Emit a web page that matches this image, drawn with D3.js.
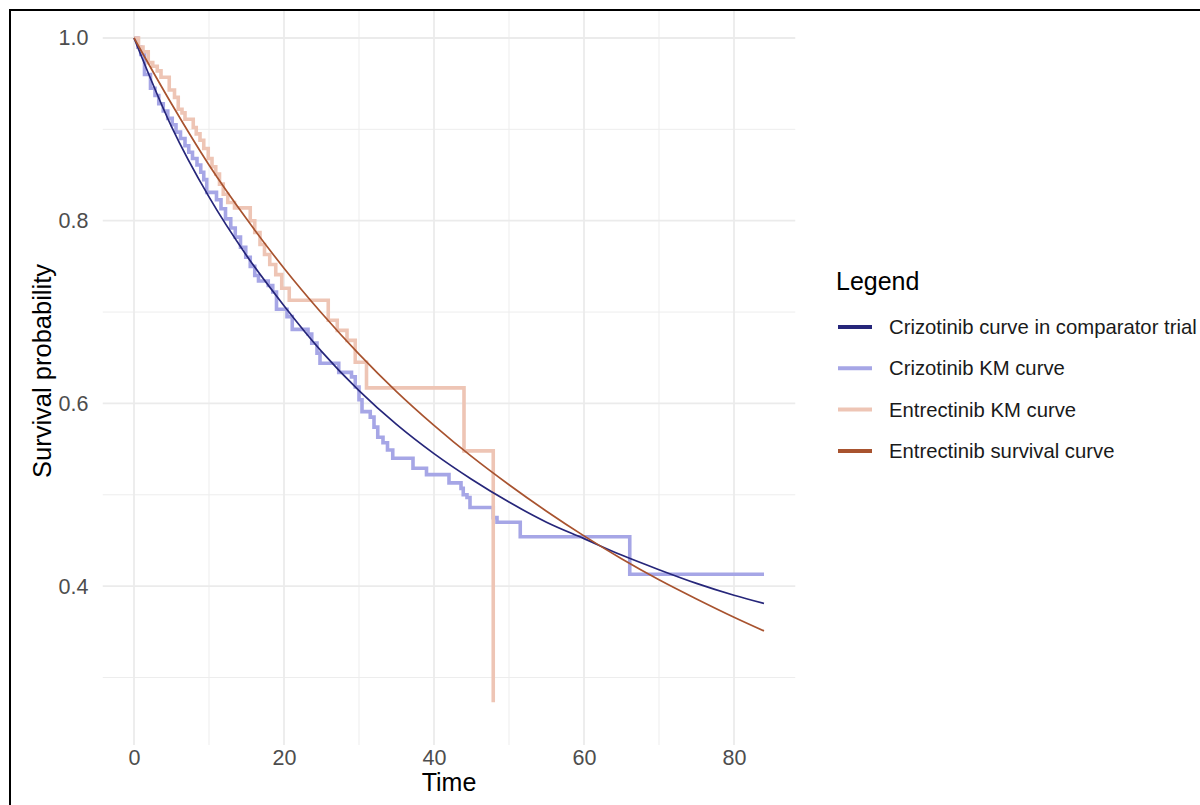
<!DOCTYPE html>
<html><head><meta charset="utf-8">
<script src="https://cdn.jsdelivr.net/npm/d3@7"></script>
<style>body{margin:0;background:#fff;} svg{display:block;font-family:"Liberation Sans",Arial,sans-serif;}</style>
</head><body><svg id="c" width="1200" height="805"></svg>
<script>
// ---- tick labels ----
const xTicks = [0, 20, 40, 60, 80];
const xMinor = [10, 30, 50, 70];
const yTicks = [0.4, 0.6, 0.8, 1.0];
const yMinor = [0.3, 0.5, 0.7, 0.9];

// ---- legend ----
const seriesNames = ["Crizotinib curve in comparator trial", "Crizotinib KM curve", "Entrectinib KM curve", "Entrectinib survival curve"];
const seriesColors = ["#26267A", "#A6A6E6", "#EEC5B5", "#A8532F"];

// ---- Crizotinib KM curve (step) ----
const crizKmTime = [0, 0.5, 0.9, 1.4, 2.2, 2.8, 3.3, 3.9, 4.5, 5.1, 5.6, 6.2, 6.8, 7.3, 7.8, 8.4, 8.9, 9.3, 9.7, 11.0, 11.6, 12.2, 12.9, 13.5, 14.2, 14.9, 15.5, 16.1, 16.6, 17.9, 18.5, 19.0, 20.4, 21.1, 23.2, 23.7, 24.4, 24.8, 27.3, 29.0, 29.5, 30.0, 30.4, 31.5, 32.0, 32.5, 33.2, 33.8, 34.5, 37.2, 39.0, 42.0, 43.6, 43.9, 44.4, 44.8, 47.9, 48.4, 51.5, 66.1, 84];
const crizKmSurv = [1.0, 0.99, 0.982, 0.96, 0.945, 0.937, 0.928, 0.92, 0.912, 0.905, 0.897, 0.89, 0.882, 0.875, 0.868, 0.861, 0.853, 0.845, 0.831, 0.823, 0.813, 0.802, 0.792, 0.782, 0.771, 0.76, 0.75, 0.74, 0.734, 0.729, 0.722, 0.703, 0.695, 0.681, 0.676, 0.666, 0.655, 0.644, 0.634, 0.629, 0.618, 0.604, 0.591, 0.585, 0.574, 0.563, 0.557, 0.549, 0.54, 0.529, 0.522, 0.513, 0.507, 0.5, 0.497, 0.486, 0.475, 0.47, 0.454, 0.413, 0.413];

// ---- Entrectinib KM curve (step) ----
const entrKmTime = [0, 0.6, 1.2, 1.9, 2.5, 3.1, 3.6, 4.7, 5.4, 5.9, 6.4, 6.8, 7.9, 8.3, 8.8, 9.3, 9.9, 10.4, 10.9, 11.4, 11.9, 12.5, 13.4, 15.5, 16.1, 16.8, 17.4, 18.1, 18.9, 19.7, 20.7, 25.9, 27.1, 28.4, 29.5, 31.0, 44.0, 47.9];
const entrKmSurv = [1.0, 0.99, 0.985, 0.973, 0.969, 0.964, 0.957, 0.943, 0.935, 0.922, 0.918, 0.911, 0.902, 0.895, 0.888, 0.879, 0.868, 0.859, 0.851, 0.84, 0.829, 0.82, 0.814, 0.8, 0.787, 0.774, 0.763, 0.752, 0.741, 0.726, 0.713, 0.691, 0.68, 0.669, 0.645, 0.617, 0.548, 0.273];

// ---- Crizotinib curve in comparator trial (smooth) ----
const crizCurveTime = [0, 5, 10, 15, 20, 25, 30, 35, 40, 45, 50, 55, 60, 65, 70, 75, 80, 84];
const crizCurveSurv = [1.0, 0.903, 0.826, 0.762, 0.707, 0.657, 0.614, 0.577, 0.545, 0.517, 0.492, 0.470, 0.452, 0.434, 0.418, 0.403, 0.390, 0.381];

// ---- Entrectinib survival curve (smooth) ----
const entrCurveTime = [0, 5, 10, 15, 20, 25, 30, 35, 40, 45, 50, 55, 60, 65, 70, 75, 80, 84];
const entrCurveSurv = [1.0, 0.928, 0.861, 0.802, 0.748, 0.699, 0.654, 0.613, 0.576, 0.542, 0.511, 0.482, 0.455, 0.430, 0.407, 0.386, 0.366, 0.351];

const svg = d3.select("#c");
const P = {left: 102.5, right: 795.5, top: 5, bottom: 745};
const x = d3.scaleLinear().domain([-4.2, 88.2]).range([P.left, P.right]);
const y = d3.scaleLinear().domain([0.2261, 1.0361]).range([P.bottom, P.top]);

svg.append("defs").append("clipPath").attr("id", "clip")
  .append("rect").attr("x", P.left).attr("y", 11).attr("width", P.right - P.left).attr("height", P.bottom - 11);

const grid = svg.append("g").attr("clip-path", "url(#clip)");
grid.selectAll(".vmin").data(xMinor).join("line")
  .attr("x1", d => x(d)).attr("x2", d => x(d)).attr("y1", P.top).attr("y2", P.bottom)
  .attr("stroke", "#EDEDED").attr("stroke-width", 1);
grid.selectAll(".hmin").data(yMinor).join("line")
  .attr("y1", d => y(d)).attr("y2", d => y(d)).attr("x1", P.left).attr("x2", P.right)
  .attr("stroke", "#EDEDED").attr("stroke-width", 1);
grid.selectAll(".vmaj").data(xTicks).join("line")
  .attr("x1", d => x(d)).attr("x2", d => x(d)).attr("y1", P.top).attr("y2", P.bottom)
  .attr("stroke", "#EBEBEB").attr("stroke-width", 1.8);
grid.selectAll(".hmaj").data(yTicks).join("line")
  .attr("y1", d => y(d)).attr("y2", d => y(d)).attr("x1", P.left).attr("x2", P.right)
  .attr("stroke", "#EBEBEB").attr("stroke-width", 1.8);

// axes
const xa = svg.append("g").attr("transform", `translate(0,${P.bottom})`)
  .call(d3.axisBottom(x).tickValues(xTicks).tickSize(0).tickPadding(5).tickFormat(d3.format("d")));
const ya = svg.append("g").attr("transform", `translate(${P.left},0)`)
  .call(d3.axisLeft(y).tickValues(yTicks).tickSize(0).tickPadding(14).tickFormat(d3.format(".1f")));
[xa, ya].forEach(a => {
  a.select(".domain").remove();
  a.selectAll("text").attr("fill", "#4D4D4D").style("font-size", "21.5px").style("font-family", '"Liberation Sans",Arial,sans-serif');
});

// series
const zip = (ts, vs) => ts.map((t, i) => ({t, v: vs[i]}));
const stepLine = d3.line().x(d => x(d.t)).y(d => y(d.v)).curve(d3.curveStepAfter);
const smoothLine = d3.line().x(d => x(d.t)).y(d => y(d.v)).curve(d3.curveMonotoneX);
const plot = svg.append("g").attr("clip-path", "url(#clip)");
plot.append("path").datum(zip(crizKmTime, crizKmSurv)).attr("d", stepLine)
  .attr("fill", "none").attr("stroke", seriesColors[1]).attr("stroke-width", 3.6);
plot.append("path").datum(zip(entrKmTime, entrKmSurv)).attr("d", stepLine)
  .attr("fill", "none").attr("stroke", seriesColors[2]).attr("stroke-width", 3.6);
plot.append("path").datum(zip(crizCurveTime, crizCurveSurv)).attr("d", smoothLine)
  .attr("fill", "none").attr("stroke", seriesColors[0]).attr("stroke-width", 1.7);
plot.append("path").datum(zip(entrCurveTime, entrCurveSurv)).attr("d", smoothLine)
  .attr("fill", "none").attr("stroke", seriesColors[3]).attr("stroke-width", 1.7);

// axis titles
svg.append("text").attr("x", (P.left + P.right) / 2).attr("y", 791).attr("text-anchor", "middle")
  .style("font-size", "25px").attr("fill", "#000").text("Time");
svg.append("text").attr("transform", `translate(51,${(P.top + P.bottom) / 2 - 4}) rotate(-90)`).attr("text-anchor", "middle")
  .style("font-size", "25.5px").attr("fill", "#000").text("Survival probability");

// legend
const lg = svg.append("g");
lg.append("text").attr("x", 836).attr("y", 290).style("font-size", "25px").attr("fill", "#000").text("Legend");
seriesNames.forEach((n, i) => {
  const yy = 327 + i * 41.3;
  lg.append("line").attr("x1", 838).attr("x2", 872).attr("y1", yy).attr("y2", yy)
    .attr("stroke", seriesColors[i]).attr("stroke-width", 4);
  lg.append("text").attr("x", 889).attr("y", yy + 7).style("font-size", "20.3px").attr("fill", "#1A1A1A").text(n);
});

// outer frame
svg.append("rect").attr("x", 10).attr("y", 10).attr("width", 1400).attr("height", 1400)
  .attr("fill", "none").attr("stroke", "#000").attr("stroke-width", 2);
</script></body></html>
